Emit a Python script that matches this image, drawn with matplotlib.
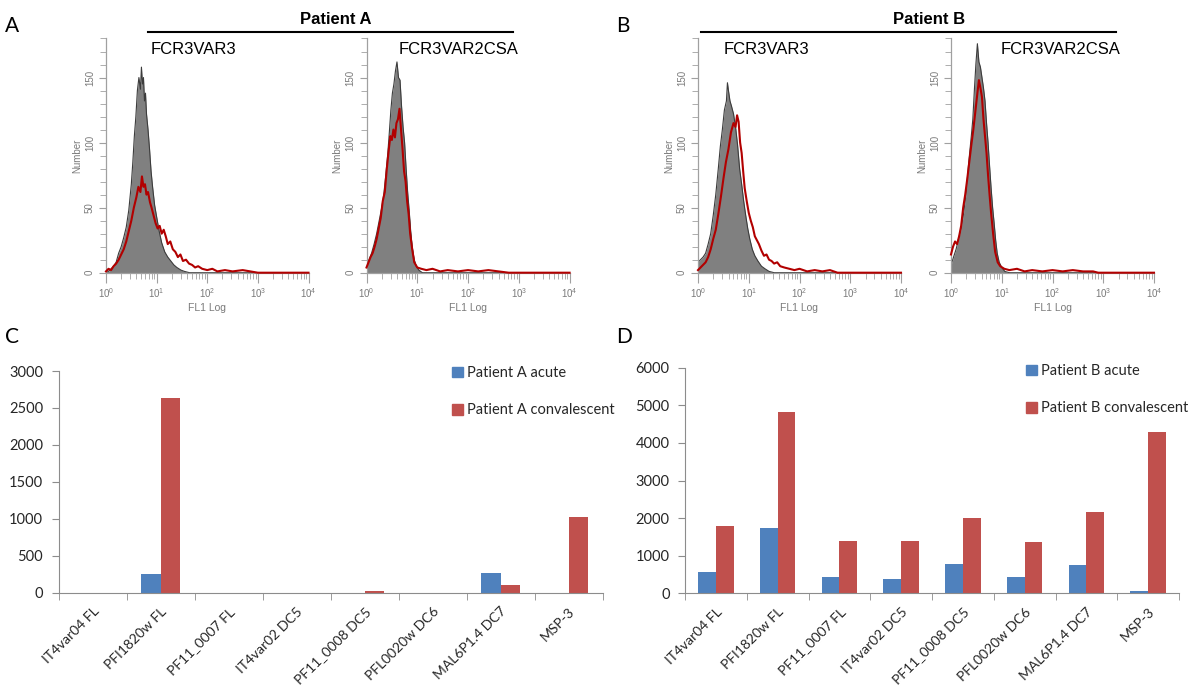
#importing libraries
import numpy as np
import matplotlib
matplotlib.use('Agg')
import matplotlib.pyplot as plt
from matplotlib.lines import Line2D
from matplotlib.patches import Patch

#flow cytometry histograms (x = log10 of FL1, y = number of events)
a3_gray_x = [0.00, 0.05, 0.10, 0.15, 0.20, 0.25, 0.30, 0.35, 0.40, 0.45, 0.50, 0.53, 0.56, 0.59, 0.62, 0.65, 0.68, 0.70,
             0.72, 0.74, 0.76, 0.78, 0.80, 0.83, 0.86, 0.89, 0.92, 0.96, 1.00, 1.05, 1.10, 1.16, 1.22, 1.28, 1.34, 1.40,
             1.48, 1.55, 1.65, 4.00]
a3_gray_y = [2, 1, 3, 5, 8, 15, 20, 27, 35, 48, 68, 85, 105, 120, 140, 150, 141, 158,
             145, 150, 132, 138, 122, 110, 95, 78, 66, 52, 43, 32, 23, 16, 12, 9, 6, 4,
             2, 1, 0, 0]
a3_red_x = [0.00, 0.05, 0.10, 0.15, 0.20, 0.25, 0.30, 0.35, 0.40, 0.45, 0.50, 0.55, 0.60, 0.64, 0.68, 0.71, 0.74, 0.77,
            0.80, 0.83, 0.87, 0.90, 0.94, 0.98, 1.02, 1.06, 1.10, 1.14, 1.18, 1.22, 1.27, 1.32, 1.37, 1.42, 1.47, 1.52,
            1.58, 1.64, 1.70, 1.76, 1.82, 1.90, 2.00, 2.10, 2.20, 2.35, 2.50, 2.70, 2.85, 3.00, 4.00]
a3_red_y = [1, 3, 2, 5, 7, 10, 14, 18, 24, 32, 40, 50, 58, 66, 62, 74, 66, 68,
            60, 62, 54, 50, 44, 38, 34, 36, 30, 33, 28, 22, 24, 18, 16, 12, 14, 9,
            10, 7, 6, 4, 5, 3, 2, 3, 1, 2, 1, 2, 1, 0, 0]

a2_gray_x = [0.00, 0.05, 0.10, 0.15, 0.20, 0.25, 0.30, 0.34, 0.38, 0.42, 0.45, 0.48, 0.51, 0.54, 0.57, 0.60, 0.63, 0.66,
             0.69, 0.72, 0.75, 0.78, 0.81, 0.84, 0.87, 0.90, 0.94, 0.98, 1.03, 1.10, 4.00]
a2_gray_y = [5, 10, 15, 22, 30, 40, 50, 60, 75, 92, 108, 125, 138, 145, 155, 162, 150, 148,
             128, 112, 100, 80, 62, 48, 32, 20, 10, 5, 2, 0, 0]
a2_red_x = [0.00, 0.04, 0.08, 0.12, 0.16, 0.20, 0.24, 0.28, 0.32, 0.36, 0.40, 0.44, 0.47, 0.50, 0.53, 0.56, 0.59, 0.62,
            0.65, 0.68, 0.71, 0.74, 0.77, 0.80, 0.83, 0.86, 0.90, 0.94, 1.00, 1.08, 1.18, 1.30, 1.45, 1.60, 1.80, 2.00,
            2.20, 2.40, 2.60, 2.80, 4.00]
a2_red_y = [4, 8, 12, 15, 20, 26, 34, 42, 55, 62, 80, 95, 105, 102, 110, 104, 115, 118,
            126, 110, 95, 78, 70, 55, 45, 30, 18, 8, 4, 3, 2, 3, 1, 2, 1, 2,
            1, 2, 1, 0, 0]

b3_gray_x = [0.00, 0.05, 0.10, 0.15, 0.20, 0.25, 0.30, 0.35, 0.40, 0.44, 0.48, 0.52, 0.56, 0.58, 0.60, 0.63, 0.66, 0.70,
             0.74, 0.78, 0.82, 0.86, 0.90, 0.94, 0.98, 1.02, 1.07, 1.12, 1.18, 1.25, 1.32, 1.40, 1.50, 4.00]
b3_gray_y = [8, 10, 12, 15, 22, 30, 44, 60, 80, 97, 110, 125, 132, 146, 140, 132, 128, 122,
             112, 98, 80, 68, 55, 44, 34, 26, 18, 13, 9, 5, 3, 1, 0, 0]
b3_red_x = [0.00, 0.05, 0.10, 0.15, 0.20, 0.25, 0.30, 0.35, 0.40, 0.45, 0.50, 0.55, 0.60, 0.65, 0.70, 0.74, 0.77, 0.80,
            0.83, 0.86, 0.89, 0.92, 0.96, 1.00, 1.04, 1.08, 1.12, 1.16, 1.20, 1.25, 1.30, 1.35, 1.40, 1.45, 1.50, 1.56,
            1.62, 1.70, 1.80, 1.90, 2.00, 2.15, 2.30, 2.45, 2.60, 2.75, 4.00]
b3_red_y = [2, 4, 6, 8, 12, 18, 26, 33, 45, 58, 72, 85, 95, 108, 115, 112, 121, 116,
            100, 92, 78, 65, 55, 46, 40, 35, 28, 25, 22, 17, 13, 14, 10, 9, 7, 8,
            5, 4, 3, 2, 3, 1, 2, 1, 2, 0, 0]

b2_gray_x = [0.00, 0.05, 0.10, 0.15, 0.20, 0.25, 0.30, 0.35, 0.40, 0.43, 0.46, 0.49, 0.52, 0.55, 0.58, 0.61, 0.64, 0.67,
             0.70, 0.73, 0.76, 0.79, 0.82, 0.85, 0.88, 0.91, 0.95, 1.00, 1.06, 1.15, 4.00]
b2_gray_y = [6, 12, 18, 26, 34, 46, 62, 85, 105, 118, 140, 160, 176, 162, 158, 150, 142, 132,
             115, 100, 82, 65, 50, 38, 25, 15, 8, 4, 1, 0, 0]
b2_red_x = [0.00, 0.04, 0.08, 0.12, 0.16, 0.20, 0.24, 0.28, 0.32, 0.36, 0.40, 0.44, 0.48, 0.52, 0.55, 0.58, 0.61, 0.64,
            0.67, 0.70, 0.73, 0.76, 0.79, 0.83, 0.87, 0.92, 0.97, 1.05, 1.15, 1.30, 1.45, 1.60, 1.80, 2.00, 2.20, 2.40,
            2.60, 2.80, 2.90, 4.00]
b2_red_y = [14, 20, 24, 22, 28, 36, 50, 60, 72, 85, 98, 110, 124, 138, 148, 142, 135, 118,
            105, 92, 75, 60, 46, 30, 16, 8, 5, 3, 2, 3, 1, 2, 1, 2, 1, 2,
            1, 1, 0, 0]

#bar chart data
antigens = ['IT4var04 FL', 'PFI1820w FL', 'PF11_0007 FL', 'IT4var02 DC5',
            'PF11_0008 DC5', 'PFL0020w DC6', 'MAL6P1.4 DC7', 'MSP-3']
patient_a_acute = [0, 248, 0, 0, 0, 0, 271, 0]
patient_a_conv = [0, 2639, 0, 0, 18, 0, 108, 1024]
patient_b_acute = [558, 1737, 425, 381, 780, 425, 762, 53]
patient_b_conv = [1799, 4813, 1391, 1391, 2012, 1356, 2154, 4298]

BLUE = '#4f81bd'
RED = '#c0504d'
GREY_TXT = '#7a7a7a'

fig = plt.figure(figsize=(12, 6.9), dpi=100)


def px_axes(left, right, top, bottom):
    """add an axes given its edges in pixels of the 1200x690 picture"""
    return fig.add_axes([left / 1200, 1 - bottom / 690, (right - left) / 1200, (bottom - top) / 690])


def draw_hist(ax, gx, gy, rx, ry):
    """grey filled control histogram with the red patient serum curve on top"""
    gx = 10 ** np.array(gx)
    rx = 10 ** np.array(rx)
    ax.fill_between(gx, gy, color='#808080', lw=0)
    ax.plot(gx, gy, color='#3c3c3c', lw=0.8)
    ax.plot(rx, ry, color='#b20000', lw=1.5, clip_on=False, zorder=5)
    ax.set_xscale('log')
    ax.set_xlim(1, 1e4)
    ax.set_ylim(0, 180)
    ax.set_yticks([0, 50, 100, 150])
    ax.set_yticks(np.arange(0, 181, 10), minor=True)
    for s in ['top', 'right']:
        ax.spines[s].set_visible(False)
    for s in ['left', 'bottom']:
        ax.spines[s].set_color('#a0a0a0')
        ax.spines[s].set_linewidth(0.9)
    ax.tick_params(axis='y', which='both', length=5, color='#a0a0a0', labelsize=7,
                   labelcolor=GREY_TXT, labelrotation=90, pad=3)
    ax.tick_params(axis='y', which='minor', length=4)
    ax.tick_params(axis='x', which='major', length=7, color='#a0a0a0', labelsize=7,
                   labelcolor=GREY_TXT, pad=3)
    ax.tick_params(axis='x', which='minor', length=4, color='#a0a0a0')
    for lab in ax.get_yticklabels():
        lab.set_va('center')
    ax.set_xlabel('FL1 Log', fontsize=7.5, color=GREY_TXT, labelpad=2)
    ax.set_ylabel('Number', fontsize=7, color=GREY_TXT, labelpad=2)


def draw_bars(ax, acute, conv, ymax, step, names):
    """Excel style clustered columns"""
    x = np.arange(len(antigens))
    w = 0.286
    ax.bar(x - w / 2, acute, width=w, color=BLUE, label=names[0])
    ax.bar(x + w / 2, conv, width=w, color=RED, label=names[1])
    ax.set_xlim(-0.5, len(antigens) - 0.5)
    ax.set_ylim(0, ymax)
    ax.set_yticks(np.arange(0, ymax + 1, step))
    ax.set_xticks(x)
    ax.set_xticks(np.arange(len(antigens) + 1) - 0.5, minor=True)
    ax.set_xticklabels(antigens, rotation=45, ha='right', va='top', rotation_mode='anchor',
                       fontsize=10, family='Lato', color='#262626')
    for lab in ax.get_yticklabels():
        lab.set_family('Lato')
    for s in ['top', 'right']:
        ax.spines[s].set_visible(False)
    for s in ['left', 'bottom']:
        ax.spines[s].set_color('#8c8c8c')
    ax.tick_params(axis='x', which='major', length=0, pad=9)
    ax.tick_params(axis='x', which='minor', length=5, color='#8c8c8c')
    ax.tick_params(axis='y', length=5, color='#8c8c8c', labelsize=10.5, labelcolor='#262626', pad=6)
    handles = [Patch(color=BLUE, label=names[0]), Patch(color=RED, label=names[1])]
    return handles


plt.rcParams['font.family'] = ['Liberation Sans', 'DejaVu Sans']

#histograms
ax1 = px_axes(106, 308.5, 38.5, 272.7)
draw_hist(ax1, a3_gray_x, a3_gray_y, a3_red_x, a3_red_y)
ax2 = px_axes(366.5, 569.6, 38.5, 272.7)
draw_hist(ax2, a2_gray_x, a2_gray_y, a2_red_x, a2_red_y)
ax3 = px_axes(698, 901, 38.5, 272.7)
draw_hist(ax3, b3_gray_x, b3_gray_y, b3_red_x, b3_red_y)
ax4 = px_axes(951, 1154, 38.5, 272.7)
draw_hist(ax4, b2_gray_x, b2_gray_y, b2_red_x, b2_red_y)

for xp, name in [(151, 'FCR3VAR3'), (399, 'FCR3VAR2CSA'), (724, 'FCR3VAR3'), (1001, 'FCR3VAR2CSA')]:
    fig.text(xp / 1200, 1 - 50 / 690, name, fontsize=12, va='center', ha='left')

fig.text(336 / 1200, 1 - 20 / 690, 'Patient A', fontsize=12, weight='bold', ha='center', va='center')
fig.text(929 / 1200, 1 - 20 / 690, 'Patient B', fontsize=12, weight='bold', ha='center', va='center')
fig.add_artist(Line2D([148 / 1200, 513 / 1200], [1 - 32 / 690] * 2, color='black', lw=1.5))
fig.add_artist(Line2D([701 / 1200, 1116 / 1200], [1 - 32 / 690] * 2, color='black', lw=1.5))

#bar charts
ax5 = px_axes(58.5, 602.5, 371, 592.7)
h5 = draw_bars(ax5, patient_a_acute, patient_a_conv, 3000, 500,
               ['Patient A acute', 'Patient A convalescent'])
ax6 = px_axes(685, 1179, 367.7, 593.3)
h6 = draw_bars(ax6, patient_b_acute, patient_b_conv, 6000, 1000,
               ['Patient B acute', 'Patient B convalescent'])

for handles, xp, yp in [(h5, 452, 366), (h6, 1026, 364)]:
    fig.legend(handles=handles, loc='upper left', bbox_to_anchor=(xp / 1200, 1 - yp / 690),
               frameon=False, prop={'family': 'Lato', 'size': 10.5}, labelspacing=1.6,
               handlelength=0.75, handleheight=0.75, handletextpad=0.25, borderpad=0,
               borderaxespad=0, labelcolor='#262626')

#panel letters
for xp, yp, letter in [(5, 26, 'A'), (616, 26, 'B'), (5, 337, 'C'), (616, 337, 'D')]:
    fig.text(xp / 1200, 1 - yp / 690, letter, fontsize=15, family='Lato', va='center', ha='left')

plt.savefig('out.png', dpi=100)
